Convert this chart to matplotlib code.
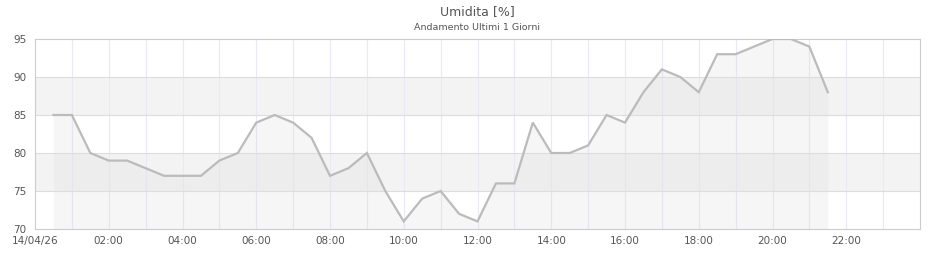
import matplotlib
matplotlib.use("Agg")
import matplotlib.pyplot as plt

times = ["00:30", "01:00", "01:30", "02:00", "02:30", "03:00", "03:30", "04:00", "04:30",
         "05:00", "05:30", "06:00", "06:30", "07:00", "07:30", "08:00", "08:30", "09:00",
         "09:30", "10:00", "10:30", "11:00", "11:30", "12:00", "12:30", "13:00", "13:30",
         "14:00", "14:30", "15:00", "15:30", "16:00", "16:30", "17:00", "17:30", "18:00",
         "18:30", "19:00", "19:30", "20:00", "20:30", "21:00", "21:30"]
humidity = [85, 85, 80, 79, 79, 78, 77, 77, 77,
            79, 80, 84, 85, 84, 82, 77, 78, 80,
            75, 71, 74, 75, 72, 71, 76, 76, 84,
            80, 80, 81, 85, 84, 88, 91, 90, 88,
            93, 93, 94, 95, 95, 94, 88]
tick_hours = [0, 2, 4, 6, 8, 10, 12, 14, 16, 18, 20, 22]
tick_labels = ["14/04/26", "02:00", "04:00", "06:00", "08:00", "10:00", "12:00",
               "14:00", "16:00", "18:00", "20:00", "22:00"]
y_ticks = [70, 75, 80, 85, 90, 95]
bands = [(75, 80), (85, 90)]

x = [int(t[:2]) + int(t[3:]) / 60 for t in times]

plt.rcParams['font.family'] = ['DejaVu Sans']
fig = plt.figure(figsize=(9.4, 2.6), dpi=100)
ax = fig.add_axes([35 / 940, 31 / 260, 885 / 940, 190 / 260])

for lo, hi in bands:
    ax.axhspan(lo, hi, color="#f3f3f3", zorder=0, lw=0)

for h in range(1, 24):
    ax.axvline(h, color="#e8e8f6", lw=0.8, zorder=1)
for yv in y_ticks[1:-1]:
    ax.axhline(yv, color="#dddddd", lw=0.8, zorder=1)

ax.fill_between(x, humidity, 70, color="#e0e0e0", alpha=0.28, lw=0, zorder=2)
ax.plot(x, humidity, color="#bbbbbb", lw=1.6, zorder=3, solid_joinstyle="miter")

ax.set_xlim(0, 24)
ax.set_ylim(70, 95)
ax.set_xticks(tick_hours)
ax.set_xticklabels(tick_labels)
ax.set_yticks(y_ticks)
ax.tick_params(axis="both", length=0, labelsize=7.5, colors="#555555")
ax.tick_params(axis="x", pad=5)
ax.tick_params(axis="y", pad=6)
for s in ax.spines.values():
    s.set_color("#cccccc")
    s.set_linewidth(0.8)

fig.text(477 / 940, 1 - 12 / 260, "Umidita [%]", ha="center", va="center",
         fontsize=9, color="#555555")
fig.text(477 / 940, 1 - 27 / 260, "Andamento Ultimi 1 Giorni", ha="center", va="center",
         fontsize=6.8, color="#555555")

fig.savefig("out.png", dpi=100)
